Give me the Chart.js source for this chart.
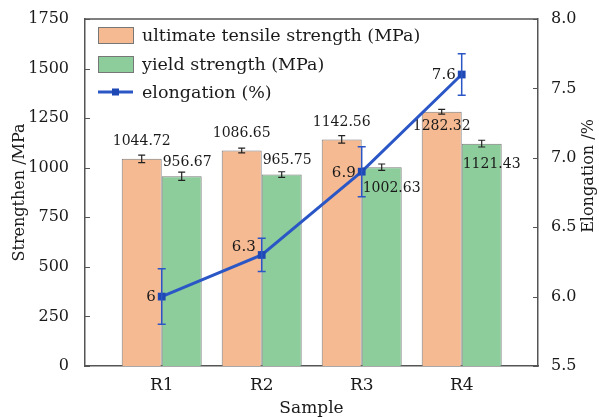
<!DOCTYPE html>
<html><head><meta charset="utf-8">
<script src="https://cdn.jsdelivr.net/npm/chart.js@4/dist/chart.umd.min.js"></script>
<style>html,body{margin:0;padding:0;background:#fff}canvas{display:block}</style>
</head><body>
<canvas id="c" width="599" height="417"></canvas>
<script>
// ---- data ----
const categories = ['R1', 'R2', 'R3', 'R4'];
const utsValues = [1044.72, 1086.65, 1142.56, 1282.32];
const utsErrors = [19, 12, 19, 12];
const yieldValues = [956.67, 965.75, 1002.63, 1121.43];
const yieldErrors = [21, 14, 16, 17];
const elongValues = [6.0, 6.3, 6.9, 7.6];
const elongErrors = [0.2, 0.12, 0.18, 0.15];
const elongLabels = ['6', '6.3', '6.9', '7.6'];
const strengthTicks = [0, 250, 500, 750, 1000, 1250, 1500, 1750];
const elongTicks = [5.5, 6.0, 6.5, 7.0, 7.5, 8.0];
const seriesNames = ['ultimate tensile strength (MPa)', 'yield strength (MPa)', 'elongation (%)'];

// label placement (style)
const utsLabelPos = ['above', 'above', 'above', 'below'];
const yieldLabelPos = ['above', 'above', 'below', 'below'];

const FONT = '"DejaVu Serif", serif';
const TXT = '#1a1a1a';
const ORANGE = '#F6BA92';
const GREEN = '#8DCD9C';
const BLUE = '#2A56C6';
const BLUE_DARK = '#1E49B5';
const AXIS = '#555';

const toXY = (vals) => vals.map((v, i) => ({ x: i + 1, y: v }));

const overlay = {
  id: 'overlay',
  afterDatasetDraw(chart, args) {
    const ctx = chart.ctx;
    const ds = chart.data.datasets[args.index];
    const meta = args.meta;
    const ys = chart.scales[ds.yAxisID];
    ctx.save();
    if (ds.type === 'bar') {
      ctx.strokeStyle = '#222';
      ctx.lineWidth = 1.2;
      meta.data.forEach((bar, j) => {
        const v = ds.data[j].y, e = ds.errors[j];
        const t = ys.getPixelForValue(v + e), b = ys.getPixelForValue(v - e);
        ctx.beginPath();
        ctx.moveTo(bar.x, t); ctx.lineTo(bar.x, b);
        ctx.moveTo(bar.x - 3.5, t); ctx.lineTo(bar.x + 3.5, t);
        ctx.moveTo(bar.x - 3.5, b); ctx.lineTo(bar.x + 3.5, b);
        ctx.stroke();
      });
      ctx.fillStyle = TXT;
      ctx.font = '14px ' + FONT;
      ctx.textBaseline = 'middle';
      meta.data.forEach((bar, j) => {
        const v = ds.data[j].y;
        const top = ys.getPixelForValue(v);
        const txt = v.toFixed(2);
        const pos = ds.labelPos[j];
        if (ds.labelAlign === 'center') {
          ctx.textAlign = 'center';
          ctx.fillText(txt, bar.x, pos === 'above' ? top - 17 : top + 15);
        } else {
          ctx.textAlign = 'left';
          ctx.fillText(txt, bar.x - bar.width / 2 + 1, pos === 'above' ? top - 14 : top + 21);
        }
      });
    } else {
      ctx.strokeStyle = BLUE;
      ctx.lineWidth = 1.5;
      meta.data.forEach((pt, j) => {
        const v = ds.data[j].y, e = ds.errors[j];
        const t = ys.getPixelForValue(v + e), b = ys.getPixelForValue(v - e);
        ctx.beginPath();
        ctx.moveTo(pt.x, t); ctx.lineTo(pt.x, b);
        ctx.moveTo(pt.x - 4, t); ctx.lineTo(pt.x + 4, t);
        ctx.moveTo(pt.x - 4, b); ctx.lineTo(pt.x + 4, b);
        ctx.stroke();
      });
      ctx.fillStyle = TXT;
      ctx.font = '15px ' + FONT;
      ctx.textBaseline = 'middle';
      ctx.textAlign = 'right';
      meta.data.forEach((pt, j) => {
        ctx.fillText(ds.pointLabels[j], pt.x - 6, pt.y + (j === 1 ? -8 : 1));
      });
    }
    ctx.restore();
  },
  afterDraw(chart) {
    const ctx = chart.ctx;
    const ca = chart.chartArea;
    ctx.save();
    // top frame line
    ctx.strokeStyle = AXIS;
    ctx.lineWidth = 1.5;
    ctx.beginPath();
    ctx.moveTo(ca.left, ca.top); ctx.lineTo(ca.right, ca.top);
    ctx.stroke();
    // inward tick marks
    ctx.lineWidth = 1.2;
    const yS = chart.scales.y, y1S = chart.scales.y1;
    ctx.beginPath();
    yS.ticks.forEach(t => {
      const p = Math.round(yS.getPixelForValue(t.value)) + 0.5;
      ctx.moveTo(ca.left, p); ctx.lineTo(ca.left + 5, p);
    });
    y1S.ticks.forEach(t => {
      const p = Math.round(y1S.getPixelForValue(t.value)) + 0.5;
      ctx.moveTo(ca.right, p); ctx.lineTo(ca.right - 5, p);
    });
    ctx.stroke();
    // right axis title (reads bottom to top)
    ctx.fillStyle = TXT;
    ctx.font = '16px ' + FONT;
    ctx.textAlign = 'center';
    ctx.textBaseline = 'middle';
    ctx.translate(589, 176);
    ctx.rotate(-Math.PI / 2);
    ctx.fillText('Elongation /%', 0, 0);
    ctx.restore();

    // legend
    ctx.save();
    const lx = ca.left + 13, bw = 35, bh = 16;
    const rows = [ca.top + 16, ca.top + 45, ca.top + 73];
    ctx.font = '17.5px ' + FONT;
    ctx.textBaseline = 'middle';
    ctx.textAlign = 'left';
    [ORANGE, GREEN].forEach((col, k) => {
      ctx.fillStyle = col;
      ctx.fillRect(lx, rows[k] - bh / 2, bw, bh);
      ctx.strokeStyle = '#777';
      ctx.lineWidth = 1;
      ctx.strokeRect(lx + 0.5, rows[k] - bh / 2 + 0.5, bw, bh);
    });
    ctx.strokeStyle = BLUE;
    ctx.lineWidth = 3;
    ctx.beginPath();
    ctx.moveTo(lx, rows[2]); ctx.lineTo(lx + bw, rows[2]);
    ctx.stroke();
    ctx.fillStyle = BLUE_DARK;
    ctx.fillRect(lx + bw / 2 - 3.5, rows[2] - 3.5, 7, 7);
    ctx.fillStyle = TXT;
    seriesNames.forEach((n, k) => ctx.fillText(n, lx + bw + 9, rows[k] + 1));
    ctx.restore();
  }
};

new Chart(document.getElementById('c'), {
  data: {
    datasets: [
      {
        type: 'bar', label: seriesNames[0], data: toXY(utsValues), errors: utsErrors,
        labelPos: utsLabelPos, labelAlign: 'center',
        backgroundColor: ORANGE, borderColor: '#7a7a7a', borderWidth: 1,
        yAxisID: 'y', order: 1, categoryPercentage: 0.8, barPercentage: 1.0
      },
      {
        type: 'bar', label: seriesNames[1], data: toXY(yieldValues), errors: yieldErrors,
        labelPos: yieldLabelPos, labelAlign: 'left',
        backgroundColor: GREEN, borderColor: '#7a7a7a', borderWidth: 1,
        yAxisID: 'y', order: 1, categoryPercentage: 0.8, barPercentage: 1.0
      },
      {
        type: 'line', label: seriesNames[2], data: toXY(elongValues), errors: elongErrors,
        pointLabels: elongLabels,
        borderColor: BLUE, borderWidth: 3, pointStyle: 'rect', pointRadius: 5.5,
        pointBackgroundColor: BLUE_DARK, pointBorderWidth: 0, fill: false, tension: 0,
        yAxisID: 'y1', order: 0
      }
    ]
  },
  options: {
    responsive: false,
    animation: false,
    layout: { padding: { top: 19, left: 0, right: 0, bottom: 0 } },
    plugins: { legend: { display: false }, tooltip: { enabled: false } },
    scales: {
      x: {
        type: 'linear', min: 0.233, max: 4.763, offset: false,
        afterBuildTicks: (s) => { s.ticks = categories.map((c, i) => ({ value: i + 1 })); },
        afterFit: (s) => { s.height = 51; },
        grid: { display: false, offset: false },
        border: { display: true, color: AXIS, width: 1.5 },
        ticks: { callback: (v, i) => categories[i], color: TXT, font: { family: FONT, size: 17 }, padding: 1, maxRotation: 0 },
        title: { display: true, text: 'Sample', color: TXT, font: { family: FONT, size: 17 }, padding: { top: 0, bottom: -2 } }
      },
      y: {
        position: 'left', min: 0, max: 1750,
        afterBuildTicks: (s) => { s.ticks = strengthTicks.map(v => ({ value: v })); },
        afterFit: (s) => { s.width = 85; },
        grid: { display: false },
        border: { display: true, color: AXIS, width: 1.5 },
        ticks: { color: TXT, font: { family: FONT, size: 16 }, padding: 8, callback: (v) => String(v) },
        title: { display: true, text: 'Strengthen /MPa', color: TXT, font: { family: FONT, size: 16 }, padding: { top: 10, bottom: 0 } }
      },
      y1: {
        position: 'right', min: 5.5, max: 8.0,
        afterBuildTicks: (s) => { s.ticks = elongTicks.map(v => ({ value: v })); },
        afterFit: (s) => { s.width = 61; },
        grid: { display: false },
        border: { display: true, color: AXIS, width: 1.5 },
        ticks: { color: TXT, font: { family: FONT, size: 16 }, padding: 5, callback: (v) => v.toFixed(1) }
      }
    }
  },
  plugins: [overlay]
});
</script>
</body></html>
